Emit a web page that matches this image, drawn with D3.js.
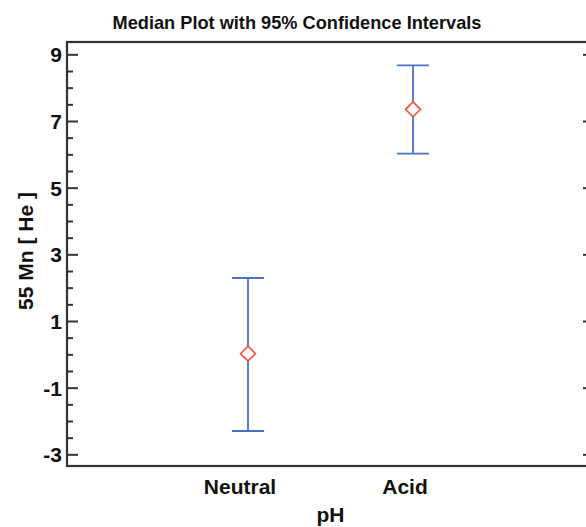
<!DOCTYPE html>
<html>
<head>
<meta charset="utf-8">
<script src="https://cdn.jsdelivr.net/npm/d3@7"></script>
<style>
  body { margin: 0; background: #fff; }
  svg text { font-family: "Liberation Sans", Arial, sans-serif; font-weight: bold; fill: #111; }
</style>
</head>
<body>
<svg id="chart" width="586" height="527"></svg>
<script>
// data
const categories = ["Neutral", "Acid"];
const medians = [0.02, 7.35];
const lowerCI = [-2.30, 6.02];
const upperCI = [2.29, 8.67];
const majorTicks = [-3, -1, 1, 3, 5, 7, 9];
const minorTicks = [-2.5, -2, -1.5, -0.5, 0, 0.5, 1.5, 2, 2.5, 3.5, 4, 4.5, 5.5, 6, 6.5, 7.5, 8, 8.5];

const svg = d3.select('#chart');
const margin = { top: 42, left: 67, right: -8, bottom: 61 };
const width = 586, height = 527;

const blue = '#4a72c6';
const red = '#ee5540';
const frameColor = '#333';

const x = d3.scaleLinear()
    .domain([-1.097, 2.097])
    .range([margin.left, width - margin.right]);
const y = d3.scaleLinear()
    .domain([-3.35, 9.37])
    .range([height - margin.bottom, margin.top]);

// title
svg.append('text')
    .attr('x', 297).attr('y', 29)
    .attr('text-anchor', 'middle')
    .style('font-size', '18.2px')
    .text('Median Plot with 95% Confidence Intervals');

// left axis, ticks pointing inward
const gLeft = svg.append('g').attr('transform', `translate(${margin.left},0)`)
    .call(d3.axisLeft(y).tickValues(majorTicks).tickSize(-11).tickPadding(5).tickFormat(d => String(d)));
gLeft.select('.domain').remove();
gLeft.selectAll('.tick line').attr('stroke', frameColor).attr('stroke-width', 2);
gLeft.selectAll('.tick text').style('font-size', '21px').attr('dy', '0.36em');

const gLeftMinor = svg.append('g').attr('transform', `translate(${margin.left},0)`)
    .call(d3.axisLeft(y).tickValues(minorTicks).tickSize(-6).tickFormat(''));
gLeftMinor.select('.domain').remove();
gLeftMinor.selectAll('.tick line').attr('stroke', frameColor).attr('stroke-width', 2);

// right axis
const xRight = width - margin.right;
const gRight = svg.append('g').attr('transform', `translate(${xRight},0)`)
    .call(d3.axisRight(y).tickValues(majorTicks).tickSize(-11).tickFormat(''));
gRight.select('.domain').remove();
gRight.selectAll('.tick line').attr('stroke', frameColor).attr('stroke-width', 2);

const gRightMinor = svg.append('g').attr('transform', `translate(${xRight},0)`)
    .call(d3.axisRight(y).tickValues(minorTicks).tickSize(-6).tickFormat(''));
gRightMinor.select('.domain').remove();
gRightMinor.selectAll('.tick line').attr('stroke', frameColor).attr('stroke-width', 2);

// frame
svg.append('rect')
    .attr('x', x.range()[0]).attr('y', y.range()[1])
    .attr('width', x.range()[1] - x.range()[0])
    .attr('height', y.range()[0] - y.range()[1])
    .attr('fill', 'none')
    .attr('stroke', frameColor)
    .attr('stroke-width', 2.2);

// category labels
svg.selectAll('.cat-label')
    .data(categories)
    .enter()
    .append('text')
    .attr('class', 'cat-label')
    .attr('x', (d, i) => x(i) - 8)
    .attr('y', 494)
    .attr('text-anchor', 'middle')
    .style('font-size', '21px')
    .text(d => d);

// axis labels
svg.append('text')
    .attr('x', (x.range()[0] + x.range()[1]) / 2).attr('y', 522)
    .attr('text-anchor', 'middle')
    .style('font-size', '21px')
    .text('pH');

svg.append('text')
    .attr('transform', `translate(33,251) rotate(-90)`)
    .attr('text-anchor', 'middle')
    .style('font-size', '21px')
    .text('55 Mn [ He ]');

// error bars
const capHalf = 16;
const bars = svg.selectAll('.ci')
    .data(categories)
    .enter()
    .append('g')
    .attr('class', 'ci')
    .attr('stroke', blue)
    .attr('stroke-width', 1.8);

bars.append('line')
    .attr('x1', (d, i) => x(i)).attr('x2', (d, i) => x(i))
    .attr('y1', (d, i) => y(lowerCI[i])).attr('y2', (d, i) => y(upperCI[i]));
bars.append('line')
    .attr('x1', (d, i) => x(i) - capHalf).attr('x2', (d, i) => x(i) + capHalf)
    .attr('y1', (d, i) => y(upperCI[i])).attr('y2', (d, i) => y(upperCI[i]));
bars.append('line')
    .attr('x1', (d, i) => x(i) - capHalf).attr('x2', (d, i) => x(i) + capHalf)
    .attr('y1', (d, i) => y(lowerCI[i])).attr('y2', (d, i) => y(lowerCI[i]));

// median diamonds
const dw = 7.5, dh = 7.5;
svg.selectAll('.median')
    .data(medians)
    .enter()
    .append('path')
    .attr('class', 'median')
    .attr('d', (d, i) => {
        const cx = x(i), cy = y(d);
        return `M${cx},${cy - dh}L${cx + dw},${cy}L${cx},${cy + dh}L${cx - dw},${cy}Z`;
    })
    .attr('fill', '#fff')
    .attr('stroke', red)
    .attr('stroke-width', 1.6);
</script>
</body>
</html>
